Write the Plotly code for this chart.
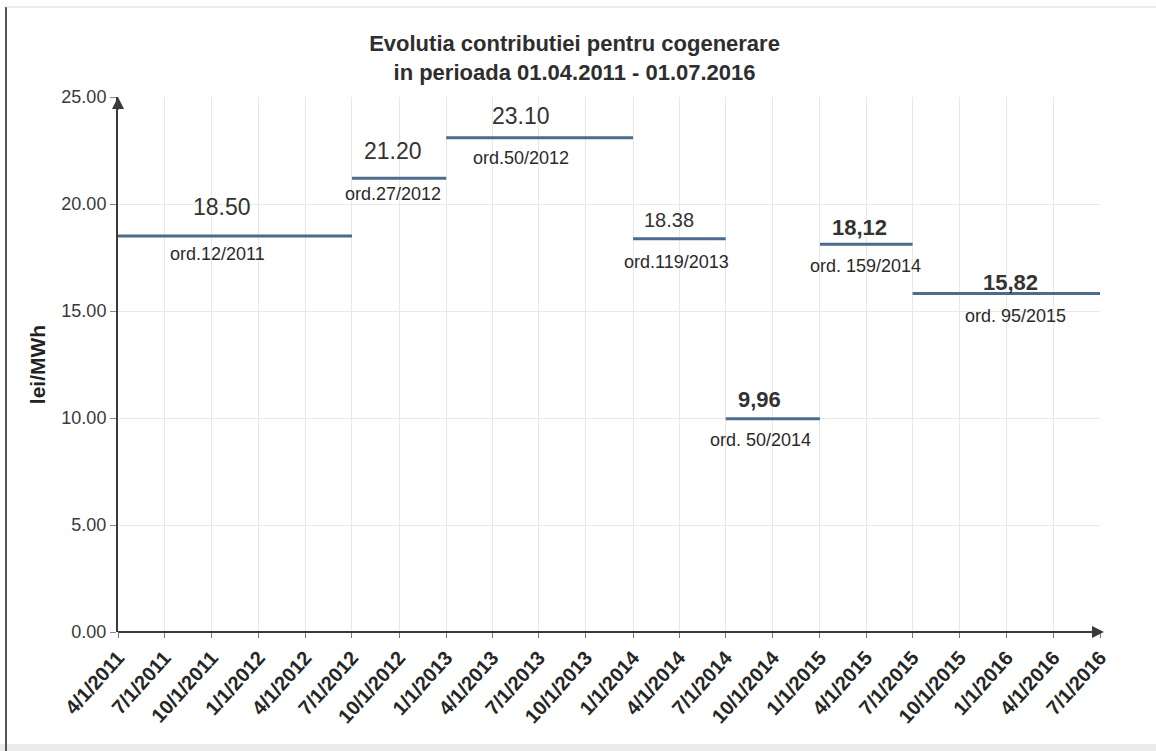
import pandas as pd
import plotly.graph_objects as go

# Cogeneration contribution (lei/MWh) by period, with the approving order
period_start = ["2011-04-01", "2012-07-01", "2013-01-01", "2014-01-01",
                "2014-07-01", "2015-01-01", "2015-07-01"]
period_end = ["2012-07-01", "2013-01-01", "2014-01-01", "2014-07-01",
              "2015-01-01", "2015-07-01", "2016-07-01"]
contribution = [18.50, 21.20, 23.10, 18.38, 9.96, 18.12, 15.82]
decimal_sep = [".", ".", ".", ".", ",", ",", ","]
orders = ["ord.12/2011", "ord.27/2012", "ord.50/2012", "ord.119/2013",
          "ord. 50/2014", "ord. 159/2014", "ord. 95/2015"]

# Quarterly tick dates on the x axis
tick_dates = pd.date_range("2011-04-01", "2016-07-01", freq="QS-JAN")

# Label styling per period
value_bold = [False, False, False, False, True, True, True]
value_size = [23, 23, 23, 20, 22, 22, 22]
value_dx = [-13, -6, -19, -10, -13, -7, 4]
value_dy = [29, 27, 22, 19, 19, 17, 11]
order_dx = [-17, -6, -19, -3, -12, -1, 9]
order_dy = [-18, -16, -20, -23, -21, -22, -23]

FONT = "Liberation Sans, Arial, sans-serif"
LINE_COLOR = "#4d6b8c"
AXIS_COLOR = "#3a3a3a"
GRID_COLOR = "#e8e8e8"

# Plot-area geometry in pixels
W, H = 1156, 751
ML, MR, MT, MB = 118, 56, 97, 119
PW, PH = W - ML - MR, H - MT - MB


def px_x(x):
    return (x - ML) / PW


def px_y(y):
    return (H - MB - y) / PH


fig = go.Figure()

for s, e, v in zip(period_start, period_end, contribution):
    fig.add_trace(go.Scatter(
        x=[s, e], y=[v, v], mode="lines",
        line=dict(color=LINE_COLOR, width=3),
        hoverinfo="skip", showlegend=False,
    ))

annotations = []
for i, (s, e, v) in enumerate(zip(period_start, period_end, contribution)):
    mid = pd.Timestamp(s) + (pd.Timestamp(e) - pd.Timestamp(s)) / 2
    txt = f"{v:.2f}".replace(".", decimal_sep[i])
    if value_bold[i]:
        txt = f"<b>{txt}</b>"
    annotations.append(dict(
        x=mid, y=v, text=txt, showarrow=False,
        xshift=value_dx[i], yshift=value_dy[i],
        font=dict(family=FONT, size=value_size[i], color="#333333"),
    ))
    annotations.append(dict(
        x=mid, y=v, text=orders[i], showarrow=False,
        xshift=order_dx[i], yshift=order_dy[i],
        font=dict(family=FONT, size=18, color="#2a2a2a"),
    ))

# Arrowheads at the ends of both axes
annotations.append(dict(
    x=0, y=1, xref="paper", yref="paper", showarrow=True,
    ax=0, ay=14, arrowhead=2, arrowsize=1.2, arrowwidth=2,
    arrowcolor=AXIS_COLOR, text="",
))
annotations.append(dict(
    x=px_x(1104), y=0, xref="paper", yref="paper", showarrow=True,
    ax=-16, ay=0, arrowhead=2, arrowsize=1.2, arrowwidth=2,
    arrowcolor=AXIS_COLOR, text="",
))

shapes = [
    # outer frame: dark left edge, light top edge, grey strip at the bottom
    dict(type="line", xref="paper", yref="paper",
         x0=px_x(6), x1=px_x(6), y0=px_y(7), y1=px_y(751),
         line=dict(color="#555555", width=2)),
    dict(type="line", xref="paper", yref="paper",
         x0=px_x(6), x1=px_x(1156), y0=px_y(7), y1=px_y(7),
         line=dict(color="#d8d8d8", width=1)),
    dict(type="rect", xref="paper", yref="paper",
         x0=px_x(0), x1=px_x(1156), y0=px_y(744), y1=px_y(751),
         line=dict(width=0), fillcolor="#ececec", layer="below"),
    # x axis line extended to the arrow tip
    dict(type="line", xref="paper", yref="paper",
         x0=0, x1=px_x(1100), y0=0, y1=0,
         line=dict(color=AXIS_COLOR, width=2)),
]

fig.update_layout(
    width=W, height=H,
    margin=dict(l=ML, r=MR, t=MT, b=MB),
    paper_bgcolor="white", plot_bgcolor="white",
    font=dict(family=FONT, color="#333333"),
    title=dict(
        text="<b>Evolutia contributiei pentru cogenerare<br>"
             "in perioada 01.04.2011 - 01.07.2016</b>",
        x=0.497, xanchor="center", y=1 - 51 / H, yanchor="middle",
        font=dict(family=FONT, size=22, color="#2e2e2e"),
    ),
    xaxis=dict(
        type="date",
        range=[tick_dates[0], tick_dates[-1]],
        tickvals=list(tick_dates),
        tickformat="%-m/%-d/%Y",
        tickangle=-48,
        tickfont=dict(family=FONT, size=20, color="#262626", weight="bold"),
        showgrid=True, gridcolor=GRID_COLOR, gridwidth=1,
        showline=False, zeroline=False,
        ticks="outside", ticklen=5, tickcolor="#777777",
    ),
    yaxis=dict(
        range=[0, 25],
        tickvals=[0, 5, 10, 15, 20, 25],
        tickformat=".2f",
        tickfont=dict(family=FONT, size=18, color="#3a3a3a"),
        showgrid=True, gridcolor=GRID_COLOR, gridwidth=1,
        showline=True, linecolor=AXIS_COLOR, linewidth=2,
        zeroline=False,
        ticks="outside", ticklen=6, tickcolor="#888888",
        title=dict(text="<b>lei/MWh</b>", standoff=10,
                   font=dict(family=FONT, size=21, color="#222222")),
    ),
    shapes=shapes,
    annotations=annotations,
)

fig.write_html("out.html")
